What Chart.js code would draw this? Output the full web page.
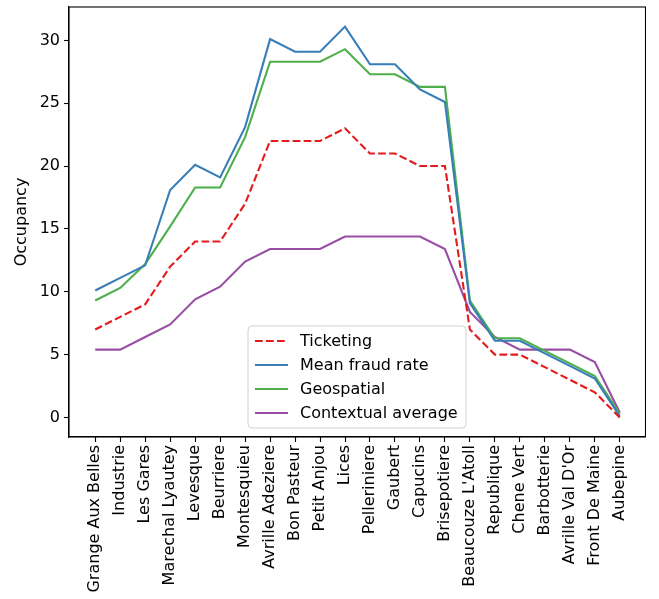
<!DOCTYPE html>
<html>
<head>
<meta charset="utf-8">
<script src="https://cdn.jsdelivr.net/npm/chart.js@4.4.0/dist/chart.umd.min.js"></script>
<style>
  body { margin: 0; background: #fff; }
  #wrap { width: 646px; height: 599px; }
</style>
</head>
<body>
<div id="wrap"><canvas id="occChart"></canvas></div>
<script>
const stops = ['Grange Aux Belles', 'Industrie', 'Les Gares', 'Marechal Lyautey', 'Levesque', 'Beurriere',
  'Montesquieu', 'Avrille Adeziere', 'Bon Pasteur', 'Petit Anjou', 'Lices', 'Pelleriniere', 'Gaubert',
  'Capucins', 'Brisepotiere', "Beaucouze L'Atoll", 'Republique', 'Chene Vert', 'Barbotterie',
  "Avrille Val D'Or", 'Front De Maine', 'Aubepine'];

const ticketing = [7, 8, 9, 12, 14, 14, 17, 22, 22, 22, 23, 21, 21, 20, 20, 7, 5, 5, 4, 3, 2, 0];
const meanFraud = [10.1, 11.1, 12.1, 18.1, 20.1, 19.1, 23.1, 30.1, 29.1, 29.1, 31.1, 28.1, 28.1, 26.1, 25.1, 9.1, 6.1, 6.1, 5.1, 4.1, 3.1, 0.1];
const geospatial = [9.3, 10.3, 12.2, 15.2, 18.3, 18.3, 22.3, 28.3, 28.3, 28.3, 29.3, 27.3, 27.3, 26.3, 26.3, 9.3, 6.3, 6.3, 5.3, 4.3, 3.3, 0.3];
const contextual = [5.4, 5.4, 6.4, 7.4, 9.4, 10.4, 12.4, 13.4, 13.4, 13.4, 14.4, 14.4, 14.4, 14.4, 13.4, 8.4, 6.4, 5.4, 5.4, 5.4, 4.4, 0.4];
const yTicks = [0, 5, 10, 15, 20, 25, 30];

const pts = arr => arr.map((v, i) => ({ x: i, y: v }));
const FONT = 'DejaVu Sans';
const FS = 16;

// legend box drawn inside the plot, like matplotlib's "best" placement
const boxLegend = {
  id: 'boxLegend',
  afterDatasetsDraw(chart) {
    const c = chart.ctx, a = chart.chartArea;
    // frame (top and right spines too)
    c.save();
    c.strokeStyle = '#000';
    c.lineWidth = 1.1;
    c.strokeRect(a.left, a.top, a.right - a.left - 0.5, a.bottom - a.top);
    c.restore();

    const x0 = 248, y0 = 326, w = 218, h = 102, r = 4;
    c.save();
    c.beginPath();
    c.roundRect(x0, y0, w, h, r);
    c.fillStyle = 'rgba(255,255,255,0.8)';
    c.fill();
    c.strokeStyle = '#d0d0d0';
    c.lineWidth = 1;
    c.stroke();
    c.font = FS + 'px ' + FONT;
    c.textBaseline = 'middle';
    chart.data.datasets.forEach((ds, i) => {
      const y = y0 + 15 + i * 24;
      c.beginPath();
      c.setLineDash(ds.borderDash || []);
      c.strokeStyle = ds.borderColor;
      c.lineWidth = ds.borderWidth;
      c.moveTo(x0 + 7, y);
      c.lineTo(x0 + 40, y);
      c.stroke();
      c.setLineDash([]);
      c.fillStyle = '#000';
      c.fillText(ds.label, x0 + 52, y + 1);
    });
    c.restore();
  }
};

new Chart(document.getElementById('occChart'), {
  type: 'line',
  data: {
    datasets: [
      { label: 'Ticketing', data: pts(ticketing), borderColor: '#e41a1c', borderWidth: 2.1, borderDash: [7.7, 3.3] },
      { label: 'Mean fraud rate', data: pts(meanFraud), borderColor: '#377eb8', borderWidth: 2.1 },
      { label: 'Geospatial', data: pts(geospatial), borderColor: '#4daf4a', borderWidth: 2.1 },
      { label: 'Contextual average', data: pts(contextual), borderColor: '#984ea3', borderWidth: 2.1 }
    ]
  },
  options: {
    responsive: true,
    maintainAspectRatio: false,
    animation: false,
    elements: { point: { radius: 0 }, line: { tension: 0 } },
    layout: { padding: { top: 7, right: 0, left: 0, bottom: 0 } },
    plugins: { legend: { display: false }, tooltip: { enabled: false } },
    scales: {
      x: {
        type: 'linear',
        min: -1.05,
        max: 22.05,
        afterBuildTicks: s => { s.ticks = stops.map((_, i) => ({ value: i })); },
        afterFit: s => { s.height = 162; s.paddingLeft = 0; s.paddingRight = 0; },
        grid: { display: true, drawOnChartArea: false, drawTicks: true, tickLength: 5, color: '#000', tickWidth: 1.1 },
        border: { display: true, color: '#000', width: 1.1 },
        ticks: {
          autoSkip: false,
          maxRotation: 90,
          minRotation: 90,
          padding: 3,
          color: '#000',
          font: { family: FONT, size: FS },
          callback: v => stops[v]
        }
      },
      y: {
        min: -1.555,
        max: 32.655,
        afterBuildTicks: s => { s.ticks = yTicks.map(v => ({ value: v })); },
        afterFit: s => { s.width = 69; s.paddingTop = 0; s.paddingBottom = 0; },
        grid: { display: true, drawOnChartArea: false, drawTicks: true, tickLength: 5, color: '#000', tickWidth: 1.1 },
        border: { display: true, color: '#000', width: 1.1 },
        ticks: { padding: 4, color: '#000', font: { family: FONT, size: FS } },
        title: { display: true, text: 'Occupancy', color: '#000', font: { family: FONT, size: FS }, padding: { top: 12, bottom: 0 } }
      }
    }
  },
  plugins: [boxLegend]
});
</script>
</body>
</html>
